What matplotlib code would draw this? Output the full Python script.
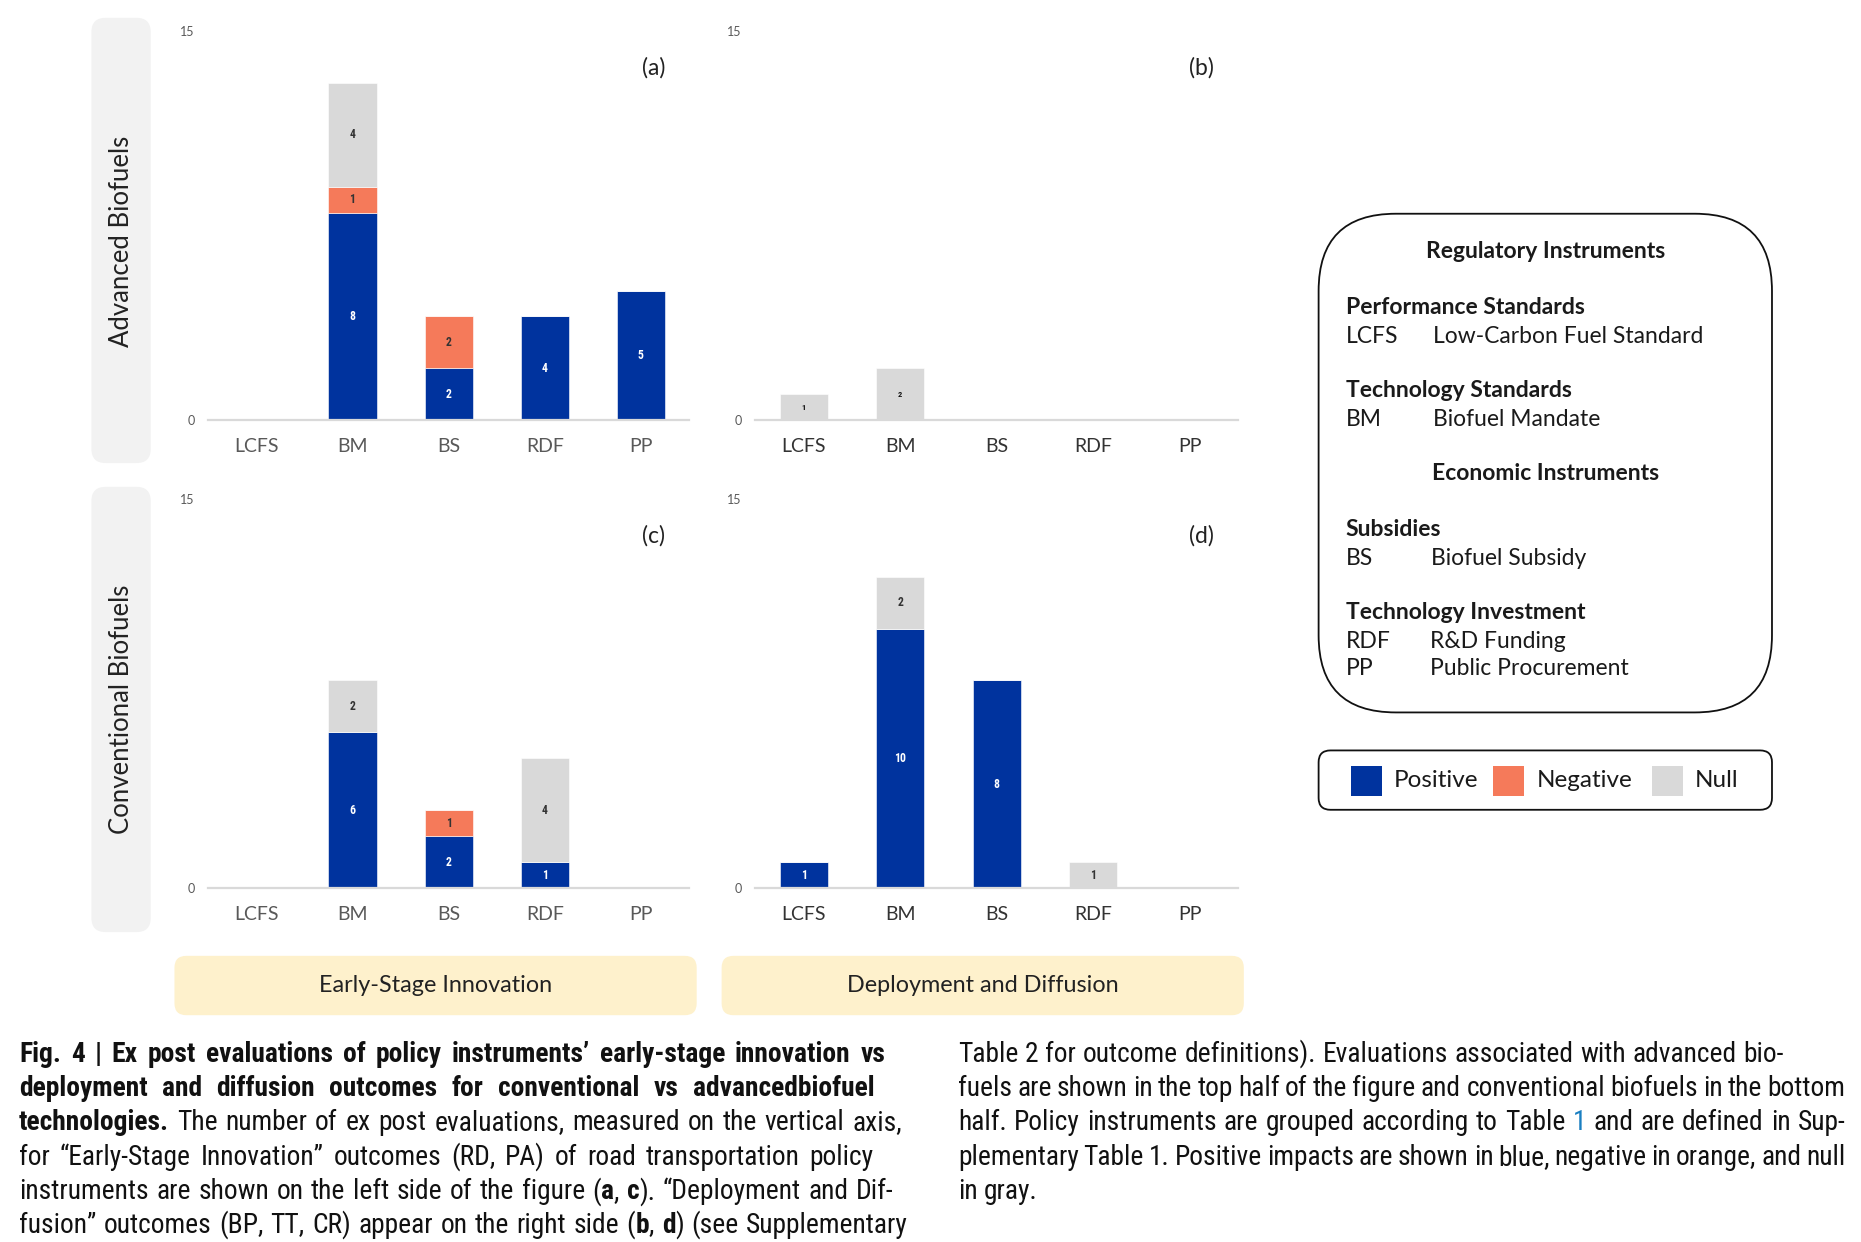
import matplotlib
matplotlib.use('Agg')
import matplotlib.pyplot as plt
from matplotlib.patches import FancyBboxPatch, Rectangle
from matplotlib import font_manager

# ---------------- data ----------------
categories = ['LCFS', 'BM', 'BS', 'RDF', 'PP']
a_pos = [0, 8, 2, 4, 5]
a_neg = [0, 1, 2, 0, 0]
a_null = [0, 4, 0, 0, 0]
b_pos = [0, 0, 0, 0, 0]
b_neg = [0, 0, 0, 0, 0]
b_null = [1, 2, 0, 0, 0]
c_pos = [0, 6, 2, 1, 0]
c_neg = [0, 0, 1, 0, 0]
c_null = [0, 2, 0, 4, 0]
d_pos = [1, 10, 8, 0, 0]
d_neg = [0, 0, 0, 0, 0]
d_null = [0, 2, 0, 1, 0]
y_ticks = [0, 15]
panel_letters = ['(a)', '(b)', '(c)', '(d)']
row_labels = ['Advanced Biofuels', 'Conventional Biofuels']
col_labels = ['Early-Stage Innovation', 'Deployment and Diffusion']
legend_labels = ['Positive', 'Negative', 'Null']

BLUE = '#00339E'
ORANGE = '#F57A5A'
GRAY = '#D9D9D9'

names = {f.name for f in font_manager.fontManager.ttflist}
def pick(cands):
    for c in cands:
        if c in names:
            return c
    return 'DejaVu Sans'

MAIN = [pick(['Lato', 'Open Sans', 'DejaVu Sans']), 'DejaVu Sans']
NARROW = pick(['Roboto Condensed', 'Liberation Sans Narrow', 'DejaVu Sans Condensed', 'Liberation Sans'])
plt.rcParams['font.family'] = MAIN

W, H = 1568, 1046
fig = plt.figure(figsize=(18.61, 12.42), dpi=100)
bg = fig.add_axes([0, 0, 1, 1], zorder=0)
bg.set_xlim(0, W)
bg.set_ylim(H, 0)
bg.axis('off')

def fx(x):
    return x / W

def fy(y):
    return 1 - y / H

def rbox(x0, y0, x1, y1, r, fc='none', ec='none', lw=0):
    p = FancyBboxPatch((x0, y0), x1 - x0, y1 - y0,
                       boxstyle=f'round,pad=0,rounding_size={r}',
                       fc=fc, ec=ec, lw=lw, transform=bg.transData)
    bg.add_patch(p)

# row / column label boxes
rbox(77, 15, 127, 390, 12, fc='#F2F2F2')
rbox(77, 410, 127, 785, 12, fc='#F2F2F2')
bg.text(102, 203, row_labels[0], rotation=90, ha='center', va='center', fontsize=18.5, color='#222222')
bg.text(102, 597, row_labels[1], rotation=90, ha='center', va='center', fontsize=18.5, color='#222222')
rbox(147, 805, 587, 855, 10, fc='#FEF1CC')
rbox(608, 805, 1048, 855, 10, fc='#FEF1CC')
bg.text(367, 830, col_labels[0], ha='center', va='center', fontsize=16.8, color='#222222')
bg.text(828, 830, col_labels[1], ha='center', va='center', fontsize=16.8, color='#222222')

# ---------------- panels ----------------
panels = [
    (175.5, 580.5, 26, 354, a_pos, a_neg, a_null, '#595959', 8.5),
    (636.5, 1043, 26, 354, b_pos, b_neg, b_null, '#333333', 6),
    (175.5, 580.5, 420, 748, c_pos, c_neg, c_null, '#595959', 8.5),
    (636.5, 1043, 420, 748, d_pos, d_neg, d_null, '#333333', 8.5),
]
letter_pos = [(551, 57), (1012, 57), (551, 451), (1012, 451)]

for i, (x0, x1, y15, y0, pos, neg, nul, tcol, vfs) in enumerate(panels):
    ax = fig.add_axes([fx(x0), fy(y0), fx(x1) - fx(x0), fy(y15) - fy(y0)], zorder=2)
    ax.patch.set_alpha(0)
    xs = list(range(len(categories)))
    ax.bar(xs, pos, width=0.5, color=BLUE, edgecolor='white', linewidth=0.4)
    ax.bar(xs, neg, width=0.5, bottom=pos, color=ORANGE, edgecolor='white', linewidth=0.4)
    bot2 = [p + n for p, n in zip(pos, neg)]
    ax.bar(xs, nul, width=0.5, bottom=bot2, color=GRAY, edgecolor='white', linewidth=0.4)
    for x in xs:
        segs = [(0, pos[x], 'white'), (pos[x], neg[x], '#333333'), (bot2[x], nul[x], '#333333' if i != 1 else '#111111')]
        for b, v, col in segs:
            if v > 0:
                ax.text(x, b + v / 2, str(v), ha='center', va='center', fontsize=vfs,
                        fontweight='bold', color=col, family=[NARROW, 'DejaVu Sans'])
    ax.set_xlim(-0.5, len(categories) - 0.5)
    ax.set_ylim(0, 15)
    ax.set_xticks(xs)
    ax.set_xticklabels(categories, fontsize=14, color=tcol)
    ax.set_yticks(y_ticks)
    ax.set_yticklabels([str(t) for t in y_ticks], fontsize=9, color='#595959')
    ax.tick_params(axis='x', length=0, pad=13)
    ax.tick_params(axis='y', length=0, pad=10)
    for s in ['top', 'right', 'left']:
        ax.spines[s].set_visible(False)
    ax.spines['bottom'].set_color('#D9D9D9')
    ax.spines['bottom'].set_linewidth(1.6)
    bg.text(letter_pos[i][0], letter_pos[i][1], panel_letters[i], ha='center', va='center',
            fontsize=16.5, color='#222222')

# ---------------- definitions box ----------------
rbox(1111, 180, 1493, 600, 65, ec='#111111', lw=1.3)
DK = '#1a1a1a'
FS = 16.5
bg.text(1302, 212, 'Regulatory Instruments', ha='center', va='center', fontsize=FS, fontweight='bold', color=DK)
defs = [
    ('Performance Standards', 259, None, None),
    ('LCFS', 283, 'Low-Carbon Fuel Standard', 1207),
    ('Technology Standards', 329, None, None),
    ('BM', 353, 'Biofuel Mandate', 1207),
    ('Subsidies', 446, None, None),
    ('BS', 470, 'Biofuel Subsidy', 1206),
    ('Technology Investment', 516, None, None),
    ('RDF', 540, 'R&D Funding', 1205),
    ('PP', 563, 'Public Procurement', 1205),
]
for t, y, t2, x2 in defs:
    if t2 is None:
        bg.text(1134, y, t, ha='left', va='center', fontsize=FS, fontweight='bold', color=DK)
    else:
        bg.text(1134, y, t, ha='left', va='center', fontsize=FS, color=DK)
        bg.text(x2, y, t2, ha='left', va='center', fontsize=FS, color=DK)
bg.text(1302, 399, 'Economic Instruments', ha='center', va='center', fontsize=FS, fontweight='bold', color=DK)

# ---------------- colour legend ----------------
rbox(1111, 632, 1493, 682, 10, ec='#111111', lw=1.3)
for (sx, tx), lab, col in zip([(1138, 1174), (1258, 1295), (1392, 1428)], legend_labels, [BLUE, ORANGE, GRAY]):
    bg.add_patch(Rectangle((sx, 645), 26, 25, fc=col, ec='none'))
    bg.text(tx, 657, lab, ha='left', va='center', fontsize=17.5, color=DK)

# ---------------- caption ----------------
left_lines = [
    ([("Fig. 4 | Ex post evaluations of policy instruments\u2019 early-stage innovation vs", 'b')], 746),
    ([("deployment and diffusion outcomes for conventional  vs advancedbiofuel", 'b')], 737),
    ([("technologies.", 'b'), (" The number of ex post evaluations, measured on the vertical axis,", 'r')], 760),
    ([("for \u201cEarly-Stage Innovation\u201d outcomes (RD, PA) of road transportation policy", 'r')], 736),
    ([("instruments are shown on the left side of the figure (", 'r'), ("a", 'b'), (", ", 'r'), ("c", 'b'),
      ("). \u201cDeployment and Dif-", 'r')], 753),
    ([("fusion\u201d outcomes (BP, TT, CR) appear on the right side (", 'r'), ("b", 'b'), (", ", 'r'), ("d", 'b'),
      (") (see Supplementary", 'r')], 765),
]
right_lines = [
    ([("Table 2 for outcome definitions). Evaluations associated with advanced bio-", 'r')], 1503),
    ([("fuels are shown in the top half of the figure and conventional biofuels in the bottom", 'r')], 1555),
    ([("half. Policy instruments are grouped according to Table ", 'r'), ("1", 'blue'),
      (" and are defined in Sup-", 'r')], 1555),
    ([("plementary Table 1. Positive impacts are shown in blue, negative in orange, and null", 'r')], 1555),
    ([("in gray.", 'r')], None),
]
baselines = [894, 923, 952, 981, 1010, 1038]

renderer = fig.canvas.get_renderer()
SC = W / 1861.0

def tokenize(segs):
    toks = [[]]
    for txt, st in segs:
        parts = txt.split(' ')
        for k, p in enumerate(parts):
            if k > 0:
                toks.append([])
            if p:
                toks[-1].append((p, st))
    return [t for t in toks if t]

def props(st, fs):
    return dict(fontsize=fs, fontweight='bold' if st == 'b' else 'normal',
                color='#1a7fc1' if st == 'blue' else '#111111', family=[NARROW, 'DejaVu Sans'])

def pwidth(s, st, fs):
    t = bg.text(0, 0, s, **props(st, fs))
    w = t.get_window_extent(renderer=renderer).width * SC
    t.remove()
    return w

def natural(segs, fs):
    toks = tokenize(segs)
    return sum(pwidth(p, st, fs) for tk in toks for p, st in tk), len(toks)

CFS = 23.0
ratio = 0.0
for lines, x0 in [(left_lines, 16), (right_lines, 807)]:
    for segs, xe in lines:
        if xe is None:
            continue
        w, n = natural(segs, CFS)
        ratio = max(ratio, (w + (n - 1) * 4.5) / (xe - x0))
if ratio > 1:
    CFS = CFS / ratio

def draw_line(segs, x0, xe, yb, fs):
    toks = tokenize(segs)
    widths = [[pwidth(p, st, fs) for p, st in tk] for tk in toks]
    total = sum(sum(w) for w in widths)
    if xe is None or len(toks) < 2:
        gap = pwidth('a b', 'r', fs) - pwidth('ab', 'r', fs)
    else:
        gap = (xe - x0 - total) / (len(toks) - 1)
    x = x0
    for tk, ws in zip(toks, widths):
        for (p, st), w in zip(tk, ws):
            bg.text(x, yb, p, ha='left', va='baseline', **props(st, fs))
            x += w
        x += gap

for (segs, xe), yb in zip(left_lines, baselines):
    draw_line(segs, 16, xe, yb, CFS)
for (segs, xe), yb in zip(right_lines, baselines):
    draw_line(segs, 807, xe, yb, CFS)

fig.savefig('out.png', dpi=100)
